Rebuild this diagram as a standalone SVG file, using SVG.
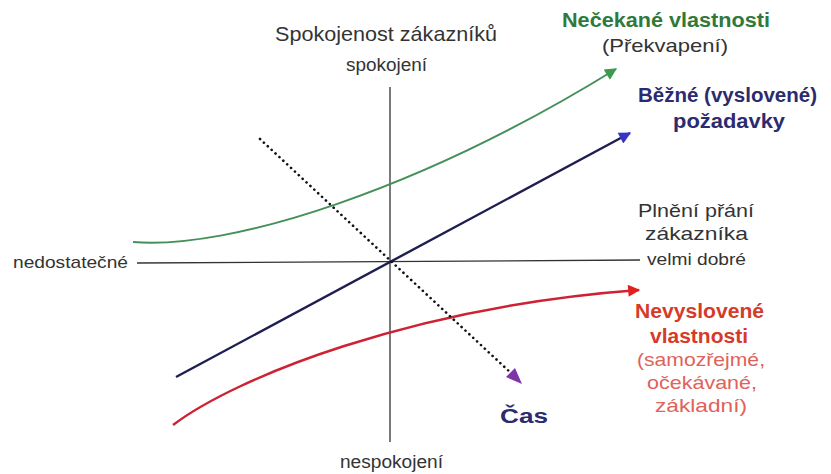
<svg xmlns="http://www.w3.org/2000/svg" width="831" height="474" viewBox="0 0 831 474">
<style>
text{font-family:"Liberation Sans",Arial,sans-serif;fill:#333}
.b{font-weight:bold}
.g{fill:#2f7a3a}
.n{fill:#2b2b6e}
.r{fill:#d63a2a}
.p{fill:#e0625a}
.axis{stroke:#333;stroke-width:1.3;fill:none}
</style>
<defs>
<marker id="mg" viewBox="0 0 10 10" refX="9" refY="5" markerWidth="7" markerHeight="6" orient="auto" markerUnits="strokeWidth"><path d="M0,0L10,5L0,10z" fill="#3c9a4c"/></marker>
<marker id="mb" viewBox="0 0 10 10" refX="9" refY="5" markerWidth="6" markerHeight="5" orient="auto" markerUnits="strokeWidth"><path d="M0,0L10,5L0,10z" fill="#3535c8"/></marker>
<marker id="mr" viewBox="0 0 10 10" refX="9" refY="5" markerWidth="6" markerHeight="5" orient="auto" markerUnits="strokeWidth"><path d="M0,0L10,5L0,10z" fill="#e0201e"/></marker>
</defs>
<g id="axes">
<line class="axis" x1="390" y1="87" x2="390" y2="442"/>
<line class="axis" x1="137" y1="263" x2="640" y2="260"/>
</g>
<g id="connectors">
<path id="green" d="M133,242 C230,250 420,190 616,69" fill="none" stroke="#45905a" stroke-width="2" marker-end="url(#mg)"/>
<line id="blue" x1="176" y1="377" x2="630" y2="133" stroke="#1e1e50" stroke-width="2.4" marker-end="url(#mb)"/>
<path id="red" d="M173,425 C235,378 410,307 639,290" fill="none" stroke="#cc2233" stroke-width="2.4" marker-end="url(#mr)"/>
<line id="time" x1="260" y1="139" x2="512" y2="374" stroke="#111" stroke-width="2.6" stroke-dasharray="0.1 5.2" stroke-linecap="round"/>
<path d="M522,384 L506,377 L515,368 z" fill="#7d35a8"/>
</g>
<g id="label-y">
<text x="275" y="41" font-size="21" textLength="222" lengthAdjust="spacingAndGlyphs">Spokojenost zákazníků</text>
<text x="346" y="71" font-size="18" textLength="81" lengthAdjust="spacingAndGlyphs">spokojení</text>
<text x="340" y="468" font-size="18" textLength="103" lengthAdjust="spacingAndGlyphs">nespokojení</text>
</g>
<g id="label-x">
<text x="638" y="217" font-size="19" textLength="116" lengthAdjust="spacingAndGlyphs">Plnění přání</text>
<text x="645" y="240" font-size="19" textLength="103" lengthAdjust="spacingAndGlyphs">zákazníka</text>
<text x="647" y="265" font-size="17" textLength="99" lengthAdjust="spacingAndGlyphs">velmi dobré</text>
<text x="13" y="268" font-size="17" textLength="115" lengthAdjust="spacingAndGlyphs">nedostatečné</text>
</g>
<g id="node-unexpected">
<text class="b g" x="562" y="27" font-size="20" textLength="208" lengthAdjust="spacingAndGlyphs">Nečekané vlastnosti</text>
<text x="602" y="52" font-size="19" textLength="126" lengthAdjust="spacingAndGlyphs">(Překvapení)</text>
</g>
<g id="node-common">
<text class="b n" x="638" y="102" font-size="20" textLength="179" lengthAdjust="spacingAndGlyphs">Běžné (vyslovené)</text>
<text class="b n" x="673" y="128" font-size="20" textLength="112" lengthAdjust="spacingAndGlyphs">požadavky</text>
</g>
<g id="node-unspoken">
<text class="b r" x="635" y="318" font-size="20" textLength="129" lengthAdjust="spacingAndGlyphs">Nevyslovené</text>
<text class="b r" x="650" y="343" font-size="20" textLength="98" lengthAdjust="spacingAndGlyphs">vlastnosti</text>
<text class="p" x="637" y="366" font-size="19" textLength="128" lengthAdjust="spacingAndGlyphs">(samozřejmé,</text>
<text class="p" x="647" y="389" font-size="19" textLength="110" lengthAdjust="spacingAndGlyphs">očekávané,</text>
<text class="p" x="655" y="412" font-size="19" textLength="92" lengthAdjust="spacingAndGlyphs">základní)</text>
</g>
<g id="node-time">
<text class="b n" x="500" y="423" font-size="20" textLength="48" lengthAdjust="spacingAndGlyphs">Čas</text>
</g>
</svg>
